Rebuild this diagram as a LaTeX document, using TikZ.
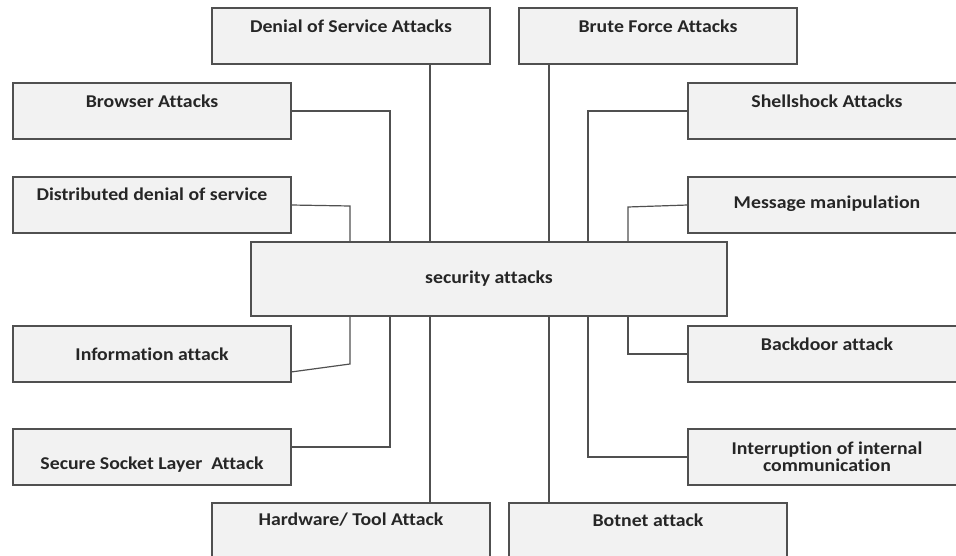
\documentclass[tikz,border=0pt]{standalone}
\usepackage{fontspec}
\setmainfont{Carlito}[FakeStretch=1.1, Ligatures=NoCommon]
\definecolor{boxfill}{HTML}{F2F2F2}
\definecolor{boxline}{HTML}{505050}
\definecolor{txt}{HTML}{262626}
\tikzset{
  abox/.style={draw=boxline, fill=boxfill, line width=1.4pt, rectangle, inner sep=0pt, outer sep=0pt,
    minimum width=278pt, minimum height=56pt, anchor=north west},
  lbl/.style={font=\fontsize{18}{17}\selectfont\bfseries, text=txt, inner sep=0pt, align=center},
  conn/.style={draw=boxline, line width=1.2pt}
}
\begin{document}
\begin{tikzpicture}[x=1pt,y=-1pt]
\useasboundingbox (0,0) rectangle (956,556);
\clip (0,0) rectangle (956,556);
% boxes
\node[abox] (dos) at (212,8) {};
\node[abox] (brute) at (519,8) {};
\node[abox] (browser) at (13,83) {};
\node[abox] (shell) at (688,83) {};
\node[abox] (ddos) at (13,177) {};
\node[abox] (msg) at (688,177) {};
\node[abox, minimum width=476pt, minimum height=74pt] (sec) at (251,242) {};
\node[abox] (info) at (13,326) {};
\node[abox] (back) at (688,326) {};
\node[abox] (ssl) at (13,429) {};
\node[abox] (intr) at (688,429) {};
\node[abox, minimum height=70pt] (hw) at (212,503) {};
\node[abox, minimum height=70pt] (bot) at (509,503) {};
% labels
\node[lbl] (dosT) at (dos.north |- 0,26) {Denial of Service Attacks};
\node[lbl] (bruteT) at (brute.north |- 0,26) {Brute Force Attacks};
\node[lbl] (browserT) at (browser.north |- 0,101) {Browser Attacks};
\node[lbl] (shellT) at (shell.north |- 0,101) {Shellshock Attacks};
\node[lbl] (ddosT) at (ddos.north |- 0,194) {Distributed denial of service};
\node[lbl] (msgT) at (msg.north |- 0,204) {Message manipulation};
\node[lbl] (secT) at (sec.center) {security attacks};
\node[lbl] (infoT) at (info.north |- 0,354) {Information attack};
\node[lbl] (backT) at (back.north |- 0,344) {Backdoor attack};
\node[lbl] (sslT) at (ssl.north |- 0,465) {Secure Socket Layer\ \ Attack};
\node[lbl] (intrT) at (intr.north |- 0,457) {Interruption of internal\\communication};
\node[lbl] (hwT) at (hw.north |- 0,520) {Hardware/ Tool Attack};
\node[lbl] (botT) at (bot.north |- 0,520) {Botnet attack};
% connector points
\coordinate (a1) at (350,242);
\coordinate (a2) at (390,242);
\coordinate (a3) at (430,242);
\coordinate (a4) at (549,242);
\coordinate (a5) at (588,242);
\coordinate (a6) at (628,242);
\coordinate (b1) at (350,316);
\coordinate (b2) at (390,316);
\coordinate (b3) at (430,316);
\coordinate (b4) at (549,316);
\coordinate (b5) at (588,316);
\coordinate (b6) at (628,316);
\coordinate (ddosK) at (350,206);
\coordinate (msgK) at (628,207);
\coordinate (infoK) at (350,364);
\coordinate (infoS) at (291,372);
\coordinate (sslS) at (291,447);
% connectors
\draw[conn] (dos.south -| a3) -- (a3);
\draw[conn] (brute.south -| a4) -- (a4);
\draw[conn] (browser.east) -| (a2);
\draw[conn] (shell.west) -| (a5);
\draw[conn] (ddos.east) -- (ddosK) -- (a1);
\draw[conn] (msg.west) -- (msgK) -- (a6);
\draw[conn] (infoS) -- (infoK) -- (b1);
\draw[conn] (sslS) -| (b2);
\draw[conn] (hw.north -| b3) -- (b3);
\draw[conn] (bot.north -| b4) -- (b4);
\draw[conn] (back.west) -| (b6);
\draw[conn] (intr.west) -| (b5);
\end{tikzpicture}
\end{document}
